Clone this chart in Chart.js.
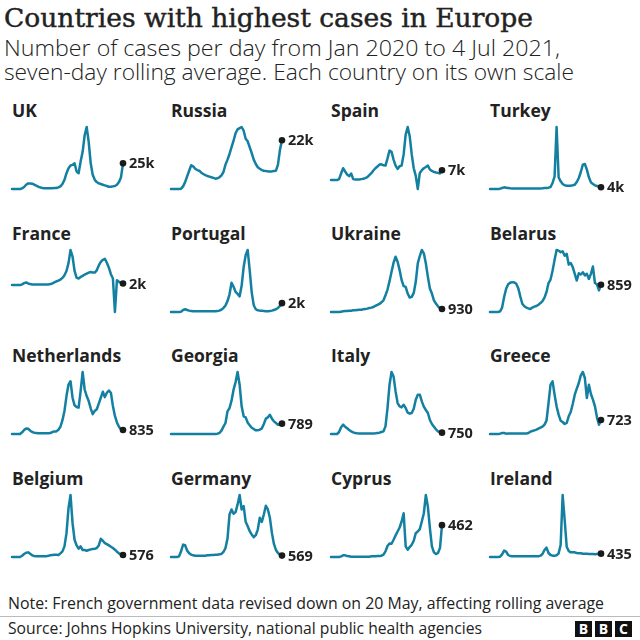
<!DOCTYPE html>
<html><head><meta charset="utf-8">
<script src="https://cdn.jsdelivr.net/npm/chart.js@4.4.1/dist/chart.umd.min.js"></script>
<style>
html,body{margin:0;padding:0;background:#fff;}
#wrap{position:relative;width:640px;height:640px;overflow:hidden;background:#fff;}
#wrap canvas{position:absolute;}
#txt{position:absolute;left:0;top:0;}
</style></head><body>
<div id="wrap">
<svg id="txt" width="640" height="640" xmlns="http://www.w3.org/2000/svg">
  <text x="4" y="27" font-family="DejaVu Serif" font-size="26" fill="#222" stroke="#222" stroke-width="0.45" textLength="529" lengthAdjust="spacingAndGlyphs">Countries with highest cases in Europe</text>
  <text x="4" y="56" font-family="Open Sans" font-weight="300" font-size="21.5" fill="#222" textLength="556" lengthAdjust="spacingAndGlyphs">Number of cases per day from Jan 2020 to 4 Jul 2021,</text>
  <text x="4" y="80" font-family="Open Sans" font-weight="300" font-size="21.5" fill="#222" textLength="570" lengthAdjust="spacingAndGlyphs">seven-day rolling average. Each country on its own scale</text>
  <g id="ptitles" font-family="Open Sans" font-weight="700" font-size="17.5" fill="#222"></g>
  <text x="8" y="609" font-family="Open Sans" font-size="15.5" fill="#222" textLength="596" lengthAdjust="spacingAndGlyphs">Note: French government data revised down on 20 May, affecting rolling average</text>
  <line x1="0" y1="616.5" x2="640" y2="616.5" stroke="#bbb" stroke-width="1"/>
  <text x="8" y="634" font-family="Open Sans" font-size="15.5" fill="#222" textLength="474" lengthAdjust="spacingAndGlyphs">Source: Johns Hopkins University, national public health agencies</text>
  <g font-family="Open Sans" font-weight="700" font-size="14" fill="#fff" text-anchor="middle">
    <rect x="575" y="621" width="17" height="16" fill="#111"/>
    <rect x="595" y="621" width="17" height="16" fill="#111"/>
    <rect x="615" y="621" width="17" height="16" fill="#111"/>
    <text x="583.5" y="634">B</text>
    <text x="603.5" y="634">B</text>
    <text x="623.5" y="634">C</text>
  </g>
</svg>
</div>
<script>
const countries = ["UK","Russia","Spain","Turkey","France","Portugal","Ukraine","Belarus","Netherlands","Georgia","Italy","Greece","Belgium","Germany","Cyprus","Ireland"];
const endLabels = ["25k","22k","7k","4k","2k","2k","930","859","835","789","750","723","576","569","462","435"];

const uk = [0,0,0,0,0,640,1900,4150,5400,5400,5100,4150,3200,2200,1600,950,640,640,640,640,640,950,950,1600,2550,4800,8900,15300,20100,22700,23300,24900,16900,15300,26500,36000,52000,60000,45600,24900,13700,8900,6700,5400,4800,4150,3500,2900,2200,2200,2550,2900,4150,6700,11200,24800];
const russia = [0,0,0,0,0,150,1200,3200,5800,8400,10900,10400,9300,8700,8400,7500,6900,6400,6000,5700,5400,5100,4750,4900,5400,6300,7800,11200,13500,16100,19200,22200,25700,27400,28000,28500,26800,23100,21900,19200,16500,13500,11500,10000,9300,8700,8400,8300,8100,8100,8100,8300,8400,11200,18100,22400];
const spain = [0,0,0,0,700,4700,8400,6100,4000,2800,4700,700,470,470,470,700,930,1400,2100,3500,4900,6800,8400,9600,11000,11200,10500,10300,15400,21000,20100,14500,10300,7900,9800,10300,18200,32200,37600,31100,18200,8400,3000,-6300,5100,7000,8400,9300,10300,7500,6500,5800,5400,5100,4700,7000];
const turkey = [0,0,0,0,0,800,2400,4000,3200,2400,1600,1200,1200,1200,1200,1200,1200,1200,1200,1200,1200,1200,1200,1200,1200,1200,1600,2400,2400,3200,4800,14300,30200,148000,27900,18300,11900,8800,8000,8000,8000,8800,10300,16700,26300,40600,58100,59700,46200,27900,15900,11900,8800,7200,5600,4000];
const france = [0,0,0,0,0,800,2400,3200,2000,1200,800,800,800,800,800,800,800,800,800,1200,2000,3200,4400,5600,6800,8800,12100,17300,26900,43000,35000,17300,9200,8000,10000,11300,12900,14100,15300,16100,15300,15300,18100,24100,28500,31000,32200,27300,21300,13300,8000,-33000,6000,4000,2800,2000];
const portugal = [0,0,0,0,0,80,460,620,460,310,230,150,150,150,150,150,150,150,150,150,150,150,150,230,310,540,920,1460,2460,4000,6600,5700,4540,4080,3540,5920,10150,12840,14000,9380,4380,1540,620,380,310,310,230,150,150,230,310,460,620,920,1380,2000];
const ukraine = [0,0,0,0,0,100,210,310,310,410,410,510,510,620,720,720,820,920,1030,1230,1340,1540,1850,2160,2460,2980,3590,5140,6880,9450,12320,15100,16950,15400,12840,9760,7910,7700,5650,4420,4620,5850,9240,14890,17150,19000,17970,14890,10780,7190,5650,3590,2570,1750,1130,930];
const belarus = [0,0,0,0,0,20,140,470,730,870,920,940,930,890,750,490,260,180,140,115,94,140,170,190,230,280,340,450,630,910,1020,1300,1640,1950,1930,1880,1910,1770,1830,1490,1540,1410,1200,990,1220,1180,1250,1150,1200,1040,1200,1430,910,870,680,859];
const netherlands = [0,0,0,0,0,350,830,1170,1100,690,410,280,210,140,140,140,140,140,140,210,410,550,550,900,1520,2900,4840,7950,10370,11060,7600,6010,5670,5530,8980,13000,9330,7950,6910,5390,4150,4840,5180,6360,7600,8850,7740,8640,9120,8640,5870,3800,2420,1520,970,835];
const georgia = [0,0,0,0,0,0,0,0,0,0,0,0,0,0,0,0,0,0,0,0,0,0,0,25,76,254,560,840,1730,1980,2540,3380,3960,4730,3760,2110,1350,1270,860,660,480,380,280,280,330,430,760,1170,1270,1470,1170,965,840,710,760,789];
const italy = [0,0,0,0,1130,3760,5260,4140,3200,2260,1500,940,560,380,230,230,230,230,230,230,230,300,380,560,750,1130,1500,4320,14660,27820,35000,32500,24060,17480,15600,15040,16540,14660,12030,11470,11840,14290,19360,22180,22180,18420,15420,13540,11840,7900,5640,4140,2630,1500,1100,750];
const greece = [0,0,0,0,0,17,52,52,17,20,20,20,20,20,20,20,20,20,20,52,120,155,190,224,275,327,378,482,688,1600,2546,2718,2030,1428,998,688,619,516,568,912,1135,1548,2030,2339,2632,3027,3200,2890,1858,2546,2064,1772,1428,860,482,723];
const belgium = [0,0,0,0,0,380,860,1240,1340,960,480,290,190,190,190,190,190,190,380,480,570,670,670,570,1050,1630,3060,6890,14070,17900,9760,4980,3350,2390,3060,2010,2010,1820,2010,2200,2300,2390,2580,3350,5260,4690,4020,3730,3350,2970,2580,2100,1530,1050,670,576];
const germany = [0,0,0,0,270,2300,5000,4730,2570,1490,950,680,540,540,540,540,540,540,680,680,810,810,950,950,1080,1220,2030,3650,7430,17150,19170,17420,18090,21200,25000,19170,20520,14180,12420,10400,9050,7970,8780,11070,15800,14180,17150,20660,19170,15800,9720,5270,2840,1620,950,569];
const cyprus = [0,0,0,0,0,10,24,24,14,10,5,5,5,5,5,5,5,5,5,5,10,10,10,14,14,19,34,82,159,197,192,250,313,370,428,515,635,154,106,144,178,236,346,370,404,515,635,900,731,418,154,67,43,58,130,462];
const ireland = [0,0,0,0,0,43,344,817,688,258,129,86,86,86,86,86,86,86,86,86,86,86,86,86,86,172,387,903,1204,516,258,172,172,215,473,1548,8000,4773,1333,774,602,602,602,516,473,473,430,430,430,387,387,387,344,387,430,435];

const series = [uk,russia,spain,turkey,france,portugal,ukraine,belarus,netherlands,georgia,italy,greece,belgium,germany,cyprus,ireland];

// category labels: one every 10 days from 1 Jan 2020 to 4 Jul 2021
const dateLabels = [];
for (let i = 0; i < uk.length; i++) {
  const d = new Date(Date.UTC(2020, 0, 1 + i * 10));
  dateLabels.push(d.toISOString().slice(0, 10));
}

const colX = [12, 171, 331, 490];
const rowY = [127, 250, 372, 495];
const PAD = {left: 6, right: 43, top: 6, bottom: 6};
const CW = 160, CH = 74;
const LINE = '#1380A1';

const endLabelPlugin = {
  id: 'endLabel',
  afterDatasetsDraw(chart, args, opts) {
    const meta = chart.getDatasetMeta(0);
    const pt = meta.data[meta.data.length - 1];
    const ctx = chart.ctx;
    ctx.save();
    ctx.font = 'bold 14.5px "Open Sans"';
    ctx.fillStyle = '#222';
    ctx.textBaseline = 'middle';
    ctx.fillText(opts.text, pt.x + 6, pt.y + 1);
    ctx.restore();
  }
};

const wrap = document.getElementById('wrap');
const pt = document.getElementById('ptitles');

series.forEach((data, k) => {
  const c = k % 4, r = Math.floor(k / 4);
  const t = document.createElementNS('http://www.w3.org/2000/svg', 'text');
  t.setAttribute('x', colX[c]);
  t.setAttribute('y', rowY[r] - 10.5);
  t.textContent = countries[k];
  pt.appendChild(t);

  const cv = document.createElement('canvas');
  cv.width = CW; cv.height = CH;
  cv.style.left = (colX[c] - PAD.left) + 'px';
  cv.style.top = (rowY[r] - PAD.top) + 'px';
  cv.style.width = CW + 'px'; cv.style.height = CH + 'px';
  wrap.appendChild(cv);
  const n = data.length;
  new Chart(cv, {
    type: 'line',
    data: {
      labels: dateLabels,
      datasets: [{
        data: data,
        borderColor: LINE,
        borderWidth: 2.5,
        borderJoinStyle: 'round',
        borderCapStyle: 'round',
        tension: 0,
        clip: false,
        pointRadius: ctx => ctx.dataIndex === n - 1 ? 3.3 : 0,
        pointHoverRadius: 0,
        pointBackgroundColor: '#1a1a1a',
        pointBorderWidth: 0
      }]
    },
    options: {
      responsive: false,
      animation: false,
      devicePixelRatio: 1,
      events: [],
      layout: {padding: PAD},
      plugins: {legend: {display: false}, tooltip: {enabled: false}, endLabel: {text: endLabels[k]}},
      scales: {
        x: {display: false},
        y: {display: false, min: Math.min(0, ...data), max: Math.max(...data)}
      }
    },
    plugins: [endLabelPlugin]
  });
});
</script>
</body></html>
